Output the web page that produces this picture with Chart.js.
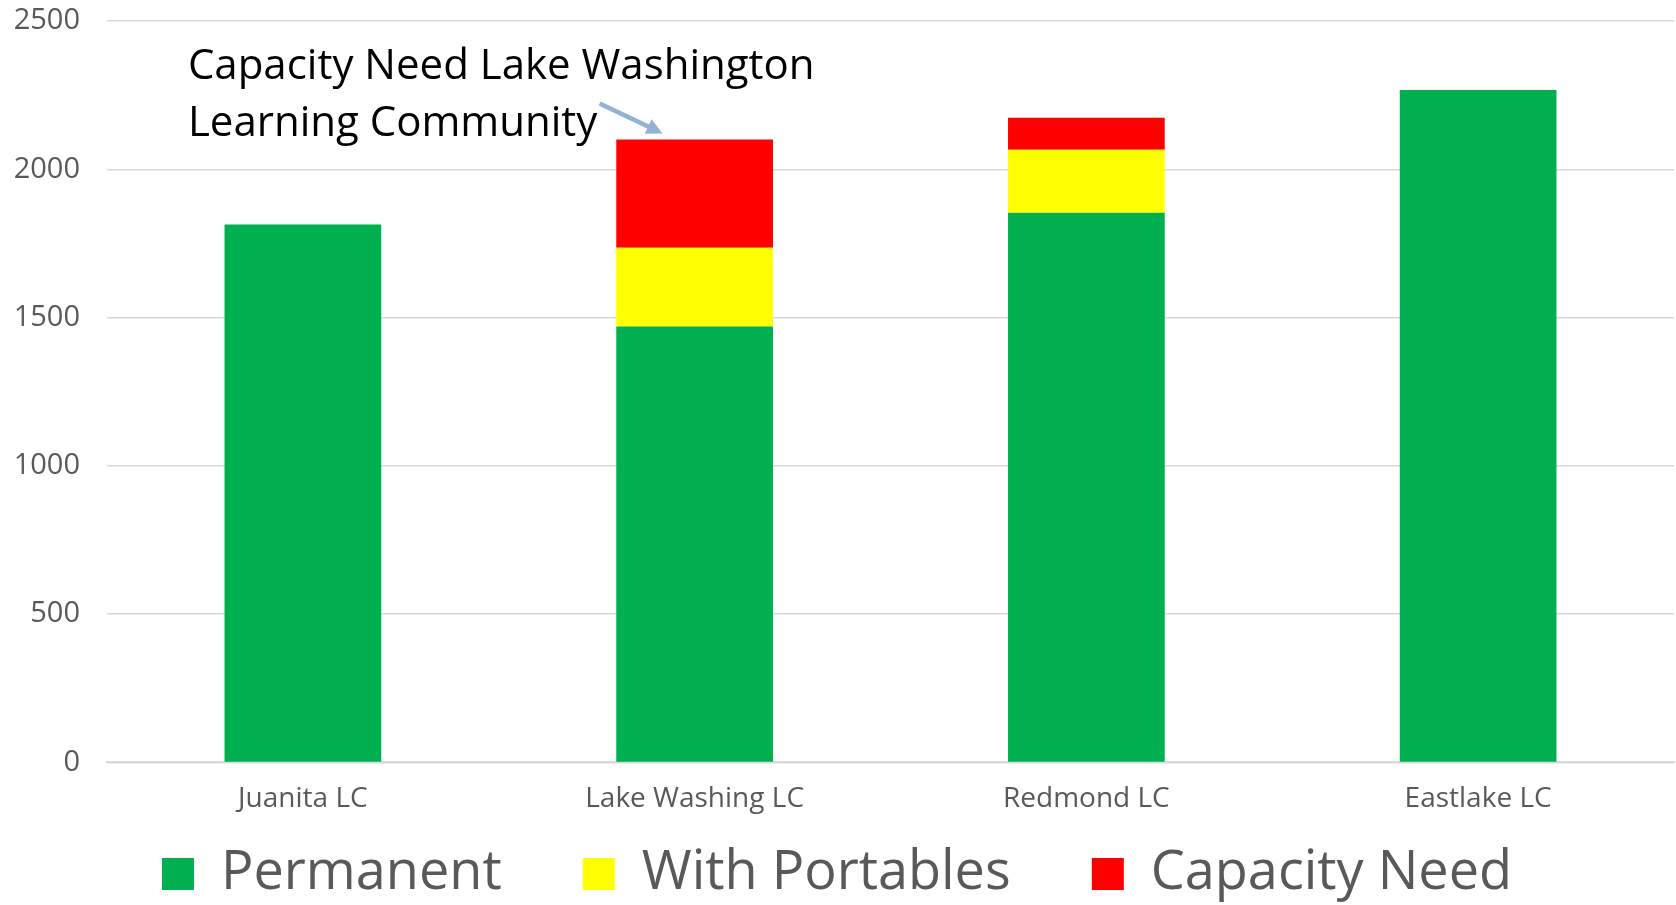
<!DOCTYPE html>
<html>
<head>
<meta charset="utf-8">
<script src="https://cdn.jsdelivr.net/npm/chart.js@4"></script>
<style>
html,body{margin:0;padding:0;background:#fff;}
#wrap{width:1676px;height:905px;position:relative;}
</style>
</head>
<body>
<div id="wrap"><canvas id="c" width="1676" height="905"></canvas></div>
<script>
const categories = ["Juanita LC", "Lake Washing LC", "Redmond LC", "Eastlake LC"];
const permanent = [1814, 1470, 1853, 2267];
const withPortables = [0, 265, 213, 0];
const capacityNeed = [0, 365, 108, 0];
const yTicks = [0, 500, 1000, 1500, 2000, 2500];
const seriesNames = ["Permanent", "With Portables", "Capacity Need"];
const seriesColors = ["#00B050", "#FFFF00", "#FF0000"];
const annotationLines = ["Capacity Need Lake Washington", "Learning Community"];

const FONT = "'Open Sans', sans-serif";
const LEGEND_GAP = "    ";

const annotationPlugin = {
  id: 'annot',
  afterDraw(chart) {
    const ctx = chart.ctx;
    const x = chart.scales.x, y = chart.scales.y;
    const c0 = x.getPixelForValue(0);
    const c1 = x.getPixelForValue(1);
    ctx.save();
    ctx.fillStyle = '#000';
    ctx.font = "42px " + FONT;
    ctx.textAlign = 'left';
    ctx.textBaseline = 'alphabetic';
    ctx.fillText(annotationLines[0], c0 - 115, y.getPixelForValue(2306));
    ctx.fillText(annotationLines[1], c0 - 115, y.getPixelForValue(2112));
    // arrow
    const sx = c1 - 95, sy = y.getPixelForValue(2222);
    const tx = c1 - 32, ty = y.getPixelForValue(2121);
    const ang = Math.atan2(ty - sy, tx - sx);
    const head = 16;
    ctx.strokeStyle = '#93B3D4';
    ctx.fillStyle = '#93B3D4';
    ctx.lineWidth = 4.5;
    ctx.beginPath();
    ctx.moveTo(sx, sy);
    ctx.lineTo(tx - head * 0.8 * Math.cos(ang), ty - head * 0.8 * Math.sin(ang));
    ctx.stroke();
    ctx.beginPath();
    ctx.moveTo(tx, ty);
    ctx.lineTo(tx - head * Math.cos(ang) + 8 * Math.sin(ang), ty - head * Math.sin(ang) - 8 * Math.cos(ang));
    ctx.lineTo(tx - head * Math.cos(ang) - 8 * Math.sin(ang), ty - head * Math.sin(ang) + 8 * Math.cos(ang));
    ctx.closePath();
    ctx.fill();
    ctx.restore();
  }
};

new Chart(document.getElementById('c'), {
  type: 'bar',
  data: {
    labels: categories,
    datasets: [
      { label: seriesNames[0], data: permanent, backgroundColor: seriesColors[0] },
      { label: seriesNames[1], data: withPortables, backgroundColor: seriesColors[1] },
      { label: seriesNames[2], data: capacityNeed, backgroundColor: seriesColors[2] }
    ]
  },
  options: {
    responsive: false,
    animation: false,
    devicePixelRatio: 1,
    layout: { padding: { top: 21, right: 2, left: 0, bottom: -6 } },
    datasets: { bar: { categoryPercentage: 1.0, barPercentage: 0.4 } },
    plugins: {
      legend: {
        position: 'bottom',
        labels: {
          font: { family: FONT, size: 54 },
          color: '#595959',
          boxWidth: 32,
          boxHeight: 32,
          padding: 11,
          generateLabels(chart) {
            const items = Chart.defaults.plugins.legend.labels.generateLabels(chart);
            items.forEach((it, i) => { if (i < items.length - 1) it.text = it.text + LEGEND_GAP + " "; });
            return items;
          }
        }
      },
      tooltip: { enabled: false }
    },
    scales: {
      x: {
        stacked: true,
        grid: { display: false, drawTicks: false },
        border: { color: '#D9D9D9', width: 2 },
        ticks: { font: { family: FONT, size: 28 }, color: '#595959', padding: 20 }
      },
      y: {
        stacked: true,
        min: 0, max: 2500,
        afterBuildTicks(scale) { scale.ticks = yTicks.map(v => ({ value: v })); },
        afterFit(scale) { scale.width = 107; scale.paddingTop = 0; scale.paddingBottom = 0; },
        grid: { color: '#D9D9D9', lineWidth: 1.5, drawTicks: false },
        border: { display: false },
        ticks: { font: { family: FONT, size: 29 }, color: '#595959', padding: 27, callback: v => String(v) }
      }
    }
  },
  plugins: [annotationPlugin]
});
</script>
</body>
</html>
